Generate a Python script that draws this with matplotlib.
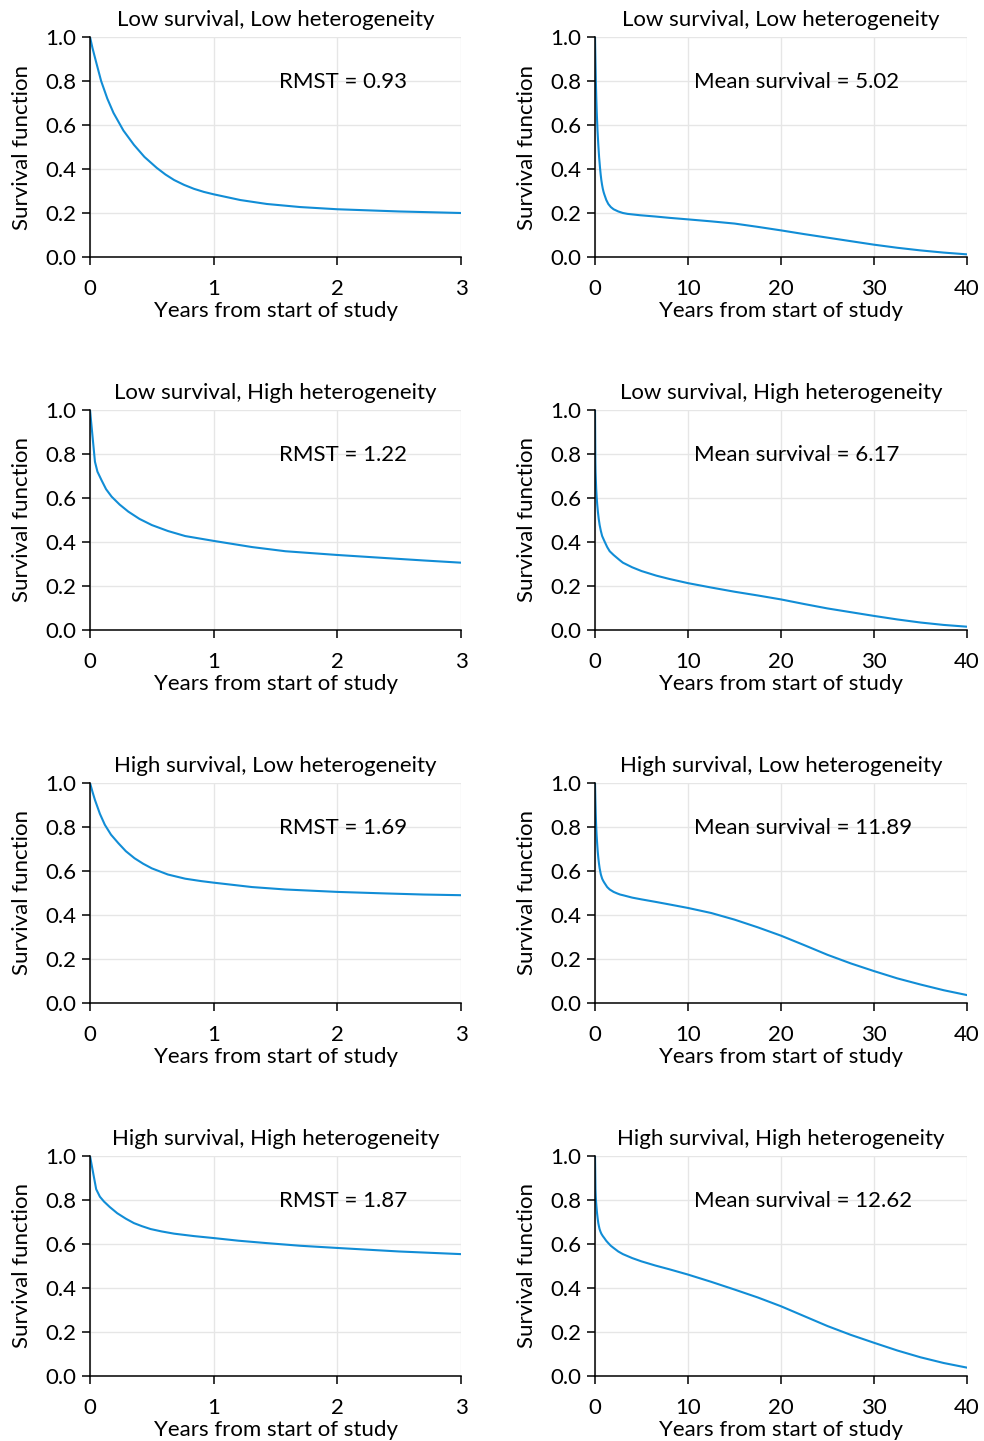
import matplotlib
matplotlib.use("Agg")
from matplotlib import pyplot as plt

plt.rcParams["font.family"] = ["Lato", "DejaVu Sans"]
plt.rcParams["font.size"] = 16

LINE_COLOR = "#118dd6"

# Panel titles (rows) and annotation values
titles = ["Low survival, Low heterogeneity", "Low survival, High heterogeneity",
          "High survival, Low heterogeneity", "High survival, High heterogeneity"]
rmst = ["0.93", "1.22", "1.69", "1.87"]
mean_surv = ["5.02", "6.17", "11.89", "12.62"]

# First 3 years (left column, also the start of the right column curves)
t_ll = [0, 0.02, 0.05, 0.09, 0.14, 0.19, 0.27, 0.355, 0.44, 0.54, 0.61, 0.68, 0.76,
        0.84, 0.92, 1.0, 1.215, 1.43, 1.7, 2.0, 2.5, 3.0]
s_ll = [1.0, 0.95, 0.885, 0.80, 0.72, 0.655, 0.575, 0.51, 0.455, 0.405, 0.375, 0.35,
        0.328, 0.31, 0.296, 0.285, 0.259, 0.241, 0.227, 0.217, 0.207, 0.2]

t_lh = [0, 0.04, 0.06, 0.094, 0.13, 0.175, 0.24, 0.31, 0.4, 0.5, 0.63, 0.77,
        1.0, 1.31, 1.58, 2.0, 2.39, 2.7, 3.0]
s_lh = [1.0, 0.765, 0.72, 0.68, 0.64, 0.606, 0.57, 0.538, 0.505, 0.477, 0.45, 0.427,
        0.405, 0.377, 0.358, 0.341, 0.327, 0.316, 0.306]

t_hl = [0, 0.02, 0.04, 0.08, 0.12, 0.17, 0.23, 0.29, 0.36, 0.43, 0.5, 0.63, 0.77,
        0.9, 1.0, 1.31, 1.58, 2.0, 2.39, 2.7, 3.0]
s_hl = [1.0, 0.96, 0.923, 0.86, 0.81, 0.765, 0.726, 0.69, 0.658, 0.633, 0.612, 0.584,
        0.565, 0.554, 0.547, 0.527, 0.516, 0.505, 0.498, 0.493, 0.49]

t_hh = [0, 0.05, 0.08, 0.113, 0.16, 0.22, 0.29, 0.355, 0.42, 0.49, 0.58, 0.68,
        0.84, 1.0, 1.2, 1.43, 1.7, 2.0, 2.5, 3.0]
s_hh = [1.0, 0.849, 0.815, 0.793, 0.768, 0.74, 0.715, 0.695, 0.681, 0.668, 0.657,
        0.647, 0.636, 0.627, 0.615, 0.604, 0.592, 0.582, 0.566, 0.554]

# Beyond 3 years, up to 40 (right column)
t_ll_tail = [3.5, 4.8, 6.5, 8, 10, 12.5, 15, 17.5, 20, 22.5, 25, 27.5, 30, 32.5, 35, 37.5, 40]
s_ll_tail = [0.196, 0.19, 0.184, 0.178, 0.171, 0.162, 0.152, 0.137, 0.121, 0.104,
             0.088, 0.072, 0.056, 0.042, 0.030, 0.020, 0.012]

t_lh_tail = [4, 5, 6.6, 8, 10, 12.5, 15, 17.5, 20, 22.5, 25, 27.5, 30, 32.5, 35, 37.5, 40]
s_lh_tail = [0.285, 0.268, 0.247, 0.232, 0.213, 0.193, 0.174, 0.157, 0.139, 0.118,
             0.098, 0.081, 0.064, 0.048, 0.034, 0.023, 0.015]

t_hl_tail = [4, 5, 6.6, 8, 10, 12.5, 15, 17.5, 20, 22.5, 25, 27.5, 30, 32.5, 35, 37.5, 40]
s_hl_tail = [0.479, 0.471, 0.459, 0.448, 0.432, 0.409, 0.379, 0.344, 0.306, 0.263,
             0.219, 0.18, 0.145, 0.112, 0.084, 0.058, 0.036]

t_hh_tail = [4, 5, 6.5, 8, 10, 12.5, 15, 17.5, 20, 22.5, 25, 27.5, 30, 32.5, 35, 37.5, 40]
s_hh_tail = [0.536, 0.521, 0.502, 0.485, 0.461, 0.428, 0.393, 0.357, 0.317, 0.272,
             0.227, 0.187, 0.151, 0.116, 0.085, 0.059, 0.038]

short_curves = [(t_ll, s_ll), (t_lh, s_lh), (t_hl, s_hl), (t_hh, s_hh)]
long_curves = [(t_ll + t_ll_tail, s_ll + s_ll_tail), (t_lh + t_lh_tail, s_lh + s_lh_tail),
               (t_hl + t_hl_tail, s_hl + s_hl_tail), (t_hh + t_hh_tail, s_hh + s_hh_tail)]

W, H = 984, 1441
fig = plt.figure(figsize=(W / 100, H / 100), dpi=100)


def style_axes(ax, xmax, xticks, title):
    ax.set_xlim(0, xmax)
    ax.set_ylim(0, 1.0)
    ax.set_xticks(xticks)
    ax.set_yticks([0, 0.2, 0.4, 0.6, 0.8, 1.0])
    ax.set_yticklabels(["0.0", "0.2", "0.4", "0.6", "0.8", "1.0"])
    ax.grid(True, color="#e6e6e6", linewidth=1.0)
    ax.set_axisbelow(True)
    for side in ("top", "right"):
        ax.spines[side].set_visible(False)
    for side in ("left", "bottom"):
        ax.spines[side].set_linewidth(1.1)
    ax.tick_params(direction="out", length=6, width=1.1)
    ax.tick_params(axis="x", pad=10)
    ax.tick_params(axis="y", pad=4)
    ax.set_xlabel("Years from start of study", labelpad=1)
    ax.set_ylabel("Survival function", labelpad=9)
    ax.set_title(title, fontsize=16, pad=8)


for row in range(4):
    bottom = 257 + 373 * row
    y0 = 1 - bottom / H
    h = 220 / H

    ax = fig.add_axes([90 / W, y0, 371 / W, h])
    t, s = short_curves[row]
    ax.plot(t, s, color=LINE_COLOR, linewidth=1.5)
    style_axes(ax, 3, [0, 1, 2, 3], titles[row])
    ax.text(0.509, 0.795, "RMST = " + rmst[row], transform=ax.transAxes,
            ha="left", va="center")

    ax = fig.add_axes([595 / W, y0, 372 / W, h])
    t, s = long_curves[row]
    ax.plot(t, s, color=LINE_COLOR, linewidth=1.5)
    style_axes(ax, 40, [0, 10, 20, 30, 40], titles[row])
    ax.text(0.266, 0.795, "Mean survival = " + mean_surv[row],
            transform=ax.transAxes, ha="left", va="center")

fig.savefig("out.png", dpi=100)
